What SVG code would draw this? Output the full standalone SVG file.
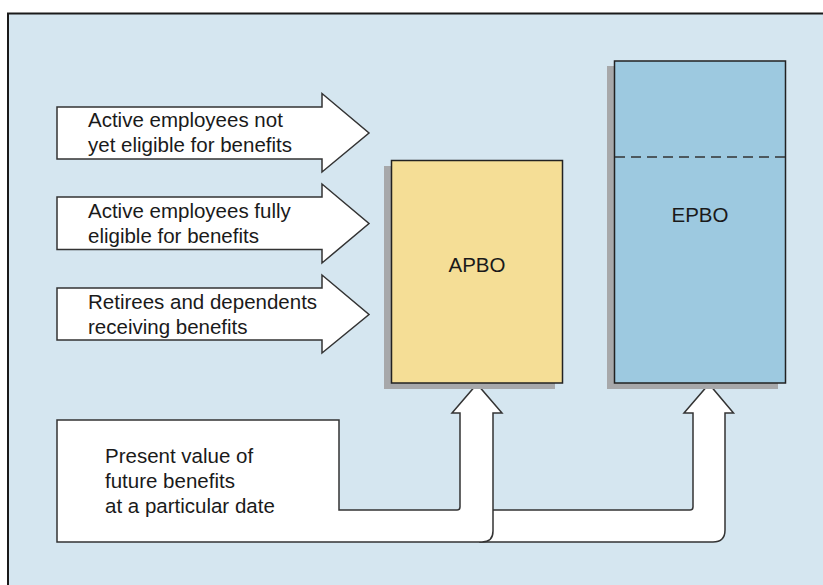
<svg xmlns="http://www.w3.org/2000/svg" width="823" height="585" viewBox="0 0 823 585">
<style>
text{font-family:"Liberation Sans",Arial,sans-serif;font-size:20.5px;fill:#1a1a1a}
.arr{fill:#fff;stroke:#333;stroke-width:1.5;stroke-linejoin:miter}
.shadow{fill:#a7a8aa}
.box{stroke:#222;stroke-width:1.5}
</style>
<rect x="8" y="13.5" width="840" height="600" fill="#d5e6f0" stroke="#1a1a1a" stroke-width="2"/>
<g id="connectors">
<path class="arr" d="M480,510 L690,510 Q693,510 693,507 L693,413 L684,413 L709,384 L733.5,413 L725,413 L725,530 Q725,542 713,542 L480,542 Z"/>
</g>
<g id="source">
<path class="arr" d="M57,420 L339,420 L339,510 L457,510 Q460,510 460,507 L460,413 L452,413 L477,384 L502,413 L493,413 L493,531 Q493,542 482,542 L57,542 Z"/>
<text x="105" y="463">Present value of</text>
<text x="105" y="488">future benefits</text>
<text x="105" y="513">at a particular date</text>
</g>
<g id="arrow1">
<path class="arr" d="M57,107 L322,107 L322,93.5 L369,133 L322,172 L322,159 L57,159 Z"/>
<text x="88" y="127">Active employees not</text>
<text x="88" y="152">yet eligible for benefits</text>
</g>
<g id="arrow2">
<path class="arr" d="M57,197 L322,197 L322,184 L369,223.5 L322,263 L322,249.5 L57,249.5 Z"/>
<text x="88" y="218">Active employees fully</text>
<text x="88" y="243">eligible for benefits</text>
</g>
<g id="arrow3">
<path class="arr" d="M57,288 L322,288 L322,275 L369,314.5 L322,353 L322,340 L57,340 Z"/>
<text x="88" y="309">Retirees and dependents</text>
<text x="88" y="334">receiving benefits</text>
</g>
<g id="apbo">
<rect class="shadow" x="384" y="166" width="171" height="223"/>
<rect class="box" x="391.5" y="160.5" width="171" height="222.5" fill="#f5de96"/>
<text x="477" y="272" text-anchor="middle">APBO</text>
</g>
<g id="epbo">
<rect class="shadow" x="607" y="66" width="171" height="323"/>
<rect class="box" x="614.5" y="61" width="171" height="322" fill="#9dc9e0"/>
<line x1="615" y1="157" x2="785" y2="157" stroke="#333" stroke-width="1.5" stroke-dasharray="10 6"/>
<text x="700" y="222" text-anchor="middle">EPBO</text>
</g>
</svg>
